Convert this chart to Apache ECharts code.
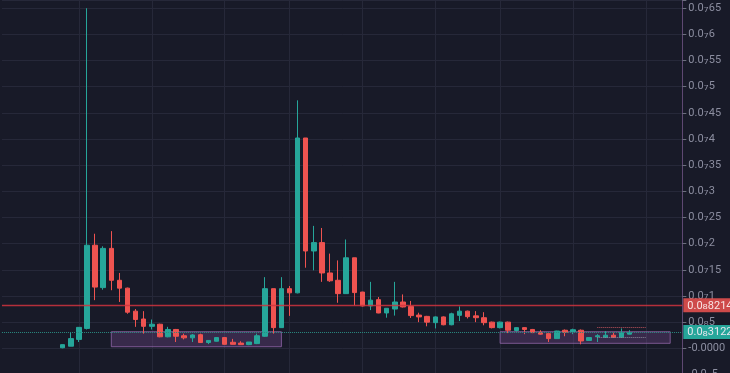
<!DOCTYPE html>
<html><head><meta charset="utf-8">
<script src="https://cdn.jsdelivr.net/npm/echarts@6/dist/echarts.min.js"></script>
<style>html,body{margin:0;padding:0;background:#181a28;}#c{width:730px;height:373px;}</style>
</head><body><div id="c"></div>
<script>
// values in units of 1e-8
const opens  = [0.01,0.04,0.17,0.38,1.97,1.16,1.91,1.30,1.15,0.71,0.56,0.42,0.46,0.22,0.36,0.24,0.20,0.26,0.11,0.135,0.205,0.115,0.10,0.07,0.09,0.23,1.14,0.395,1.14,1.06,4.02,1.86,2.02,1.44,1.30,1.045,1.73,1.075,0.81,0.93,0.675,0.75,0.885,0.80,0.635,0.61,0.49,0.60,0.45,0.63,0.71,0.62,0.585,0.50,0.395,0.50,0.34,0.395,0.36,0.305,0.28,0.185,0.345,0.32,0.345,0.15,0.22,0.21,0.25,0.21,0.27];
const closes = [0.07,0.185,0.40,1.97,1.17,1.91,1.30,1.15,0.69,0.55,0.42,0.46,0.22,0.36,0.23,0.20,0.255,0.11,0.15,0.205,0.076,0.076,0.07,0.12,0.24,1.14,0.395,1.14,1.06,4.02,1.86,2.02,1.44,1.29,1.045,1.73,1.065,0.81,0.92,0.675,0.765,0.885,0.79,0.625,0.60,0.50,0.60,0.45,0.66,0.71,0.605,0.585,0.49,0.395,0.50,0.345,0.395,0.36,0.30,0.27,0.185,0.33,0.305,0.355,0.14,0.205,0.24,0.25,0.21,0.30,0.30];
const lows   = [0.00,0.04,0.12,0.36,0.92,1.12,1.11,0.885,0.66,0.41,0.28,0.36,0.21,0.21,0.12,0.17,0.12,0.11,0.08,0.13,0.07,0.07,0.065,0.06,0.08,0.22,0.28,0.39,0.62,1.05,1.54,1.49,1.27,1.27,0.87,1.04,0.82,0.80,0.73,0.67,0.585,0.625,0.78,0.58,0.50,0.42,0.38,0.44,0.44,0.52,0.57,0.50,0.44,0.38,0.38,0.29,0.32,0.27,0.29,0.26,0.12,0.18,0.23,0.27,0.076,0.145,0.12,0.20,0.20,0.20,0.27];
const highs  = [0.07,0.31,0.40,6.5,2.19,1.95,2.24,1.44,1.16,0.75,0.71,0.55,0.47,0.41,0.37,0.28,0.27,0.28,0.15,0.21,0.21,0.18,0.135,0.12,0.28,1.36,1.14,1.36,1.19,4.74,4.02,2.34,2.30,1.81,1.68,2.08,1.73,1.08,1.27,0.98,0.77,1.27,1.03,0.905,0.68,0.62,0.61,0.61,0.68,0.80,0.72,0.71,0.69,0.51,0.51,0.51,0.40,0.40,0.37,0.345,0.28,0.335,0.36,0.375,0.36,0.21,0.27,0.33,0.30,0.38,0.345];
const categories = opens.map((_, i) => 'T' + (i + 1));

const tickValues = [-0.5,0,0.5,1,1.5,2,2.5,3,3.5,4,4.5,5,5.5,6,6.5];
const tickLabels = ['-0.0\u20885','-0.0000','0.0\u20885','0.0\u20871','0.0\u208715','0.0\u20872','0.0\u208725','0.0\u20873','0.0\u208735','0.0\u20874','0.0\u208745','0.0\u20875','0.0\u208755','0.0\u20876','0.0\u208765'];

const lastPrice = 0.8214, lastPriceLabel = '0.0\u20888214';
const markPrice = 0.3122, markPriceLabel = '0.0\u20883122';
// annotation boxes: [startIndex, endIndex, top, bottom]
const boxes = [[6, 27, 0.317, 0.03], [54, 75, 0.317, 0.095]];
// short dotted annotation segments: [startIndex, endIndex, value]
const segments = [[66, 72, 0.40], [66, 72, 0.21]];
const gridCandles = [2, 11, 20, 28, 37, 46, 54, 63, 72];

const PAD_L = 7, PAD_R = 6;
const allCats = [];
for (let i = -PAD_L; i < categories.length + PAD_R; i++) allCats.push(i >= 0 && i < categories.length ? categories[i] : 'P' + i);
const catAt = i => allCats[i + PAD_L];
const data = allCats.map((c, k) => {
  const i = k - PAD_L;
  return (i >= 0 && i < categories.length) ? [opens[i], closes[i], lows[i], highs[i]] : '-';
});

const FONT = 'Roboto, "DejaVu Sans", sans-serif';
// wrap unicode subscript digits in a rich-text token so they render at a readable size
const subRich = s => s.replace(/([\u2080-\u2089])/g, '{s|$1}');

const chart = echarts.init(document.getElementById('c'), null, {renderer: 'canvas'});
chart.setOption({
  animation: false,
  backgroundColor: '#181a28',
  grid: {left: 1.95, right: 47.65, top: 0, height: 374.45, containLabel: false, outerBoundsMode: 'none'},
  xAxis: {
    type: 'category', data: allCats, boundaryGap: true,
    axisLine: {show: false}, axisTick: {show: false}, axisLabel: {show: false},
    splitLine: {show: true, alignWithLabel: true,
      interval: (idx) => gridCandles.indexOf(idx - PAD_L) >= 0,
      lineStyle: {color: '#262839', width: 1}}
  },
  yAxis: {
    type: 'value', position: 'right', scale: true,
    min: -0.5, max: 6.658, interval: 0.5,
    axisLine: {show: true, lineStyle: {color: '#5e4872', width: 1}},
    axisTick: {show: true, length: 4, lineStyle: {color: '#6c6e7e'}},
    axisLabel: {margin: 6, color: '#8c8ea0', fontSize: 11, fontFamily: FONT,
      rich: {s: {fontFamily: '"DejaVu Sans"', fontSize: 13, color: '#8c8ea0'}},
      formatter: v => { const k = tickValues.findIndex(t => Math.abs(t - v) < 1e-6); return k >= 0 ? subRich(tickLabels[k]) : ''; }},
    splitLine: {show: true, lineStyle: {color: '#262839', width: 1}}
  },
  series: [
    {
      type: 'line', data: [], z: 1, silent: true,
      markLine: {
        silent: true, symbol: ['none', 'none'], animation: false, precision: 4,
        lineStyle: {color: '#d1343e', width: 1.4, type: 'solid', opacity: 0.85},
        label: {show: true, position: 'end', distance: 1, formatter: subRich(lastPriceLabel), backgroundColor: '#ef5350', color: '#ffffff', padding: [1, 4, 0, 4], fontSize: 11, fontFamily: FONT,
          rich: {s: {fontFamily: '"DejaVu Sans"', fontSize: 13, color: '#ffffff'}}},
        data: [{yAxis: lastPrice}]
      }
    },
    {
      type: 'line', data: [], z: 1, silent: true,
      markLine: {
        silent: true, symbol: ['none', 'none'], animation: false, precision: 4,
        lineStyle: {color: '#2b8a80', width: 1, type: 'dotted'},
        label: {show: true, position: 'end', distance: 1, formatter: subRich(markPriceLabel), backgroundColor: '#26a69a', color: '#e6e6ee', padding: [1, 4, 0, 4], fontSize: 11, fontFamily: FONT,
          rich: {s: {fontFamily: '"DejaVu Sans"', fontSize: 13, color: '#e6e6ee'}}},
        data: [{yAxis: markPrice}]
      }
    },
    {
      type: 'line', data: [], z: 1, silent: true,
      markLine: {
        silent: true, symbol: ['none', 'none'], animation: false,
        lineStyle: {color: '#c0555c', width: 1, type: 'dotted'}, label: {show: false},
        data: [[{coord: [catAt(segments[0][0]), segments[0][2]]}, {coord: [catAt(segments[0][1]), segments[0][2]]}]]
      }
    },
    {
      type: 'line', data: [], z: 1, silent: true,
      markLine: {
        silent: true, symbol: ['none', 'none'], animation: false,
        lineStyle: {color: '#8a8a9a', width: 1, type: 'dotted'}, label: {show: false},
        data: [[{coord: [catAt(segments[1][0]), segments[1][2]]}, {coord: [catAt(segments[1][1]), segments[1][2]]}]]
      }
    },
    {
      type: 'candlestick', data: data, barWidth: 5, z: 3,
      itemStyle: {color: '#26a69a', color0: '#ef5350', borderColor: '#26a69a', borderColor0: '#ef5350', borderWidth: 1},
      markArea: {
        silent: true,
        itemStyle: {color: 'rgba(123,77,150,0.32)', borderColor: 'rgba(150,105,175,0.75)', borderWidth: 1},
        data: boxes.map(b => [{xAxis: catAt(b[0]), yAxis: b[2]}, {xAxis: catAt(b[1]), yAxis: b[3]}])
      }
    }
  ]
});
</script></body></html>
